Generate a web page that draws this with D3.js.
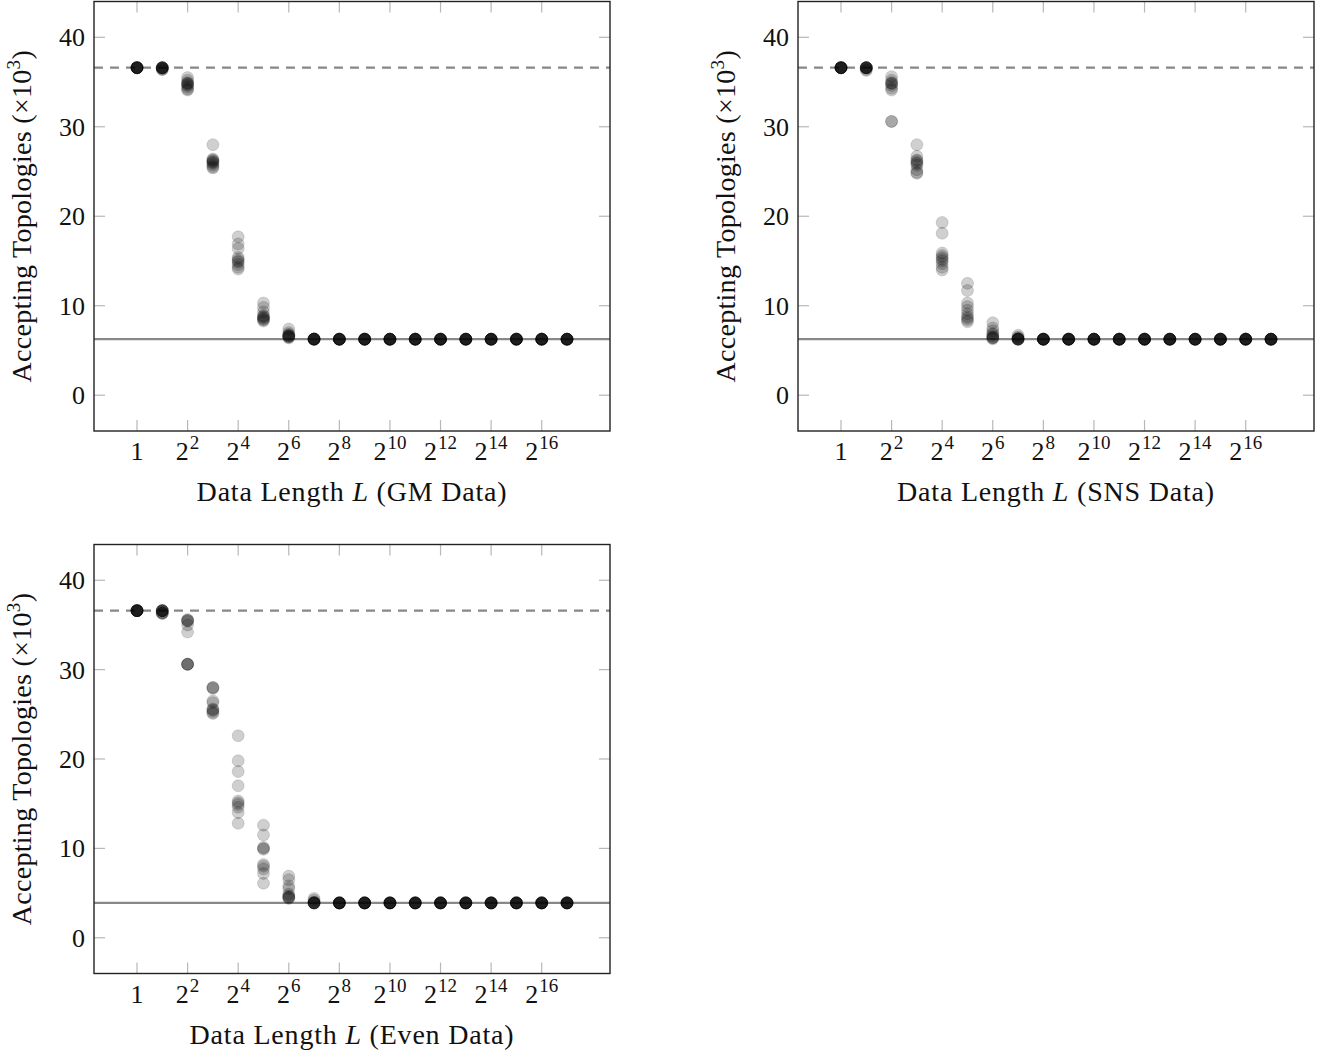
<!DOCTYPE html>
<html>
<head>
<meta charset="utf-8">
<script src="https://cdn.jsdelivr.net/npm/d3@7"></script>
<style>
  html, body { margin: 0; padding: 0; background: #fff; }
  svg { display: block; }
  text { font-family: "Liberation Serif", "Times New Roman", serif; fill: #111; }
</style>
</head>
<body>
<svg id="chart" width="1328" height="1055"></svg>
<script>
// ---- data ----
const lengths = [1, 2, 4, 8, 16, 32, 64, 128, 256, 512, 1024, 2048, 4096, 8192, 16384, 32768, 65536, 131072];
const xTickExponents = [0, 2, 4, 6, 8, 10, 12, 14, 16];
const yTicks = [0, 10, 20, 30, 40];

const gmValues = [
  [36.6, 36.6, 36.6, 36.6, 36.6, 36.6, 36.6, 36.6, 36.6, 36.6],
  [36.6, 36.6, 36.6, 36.6, 36.6, 36.6, 36.6, 36.5, 36.4, 36.4],
  [35.5, 35.2, 34.9, 34.9, 34.8, 34.7, 34.6, 34.4, 34.2, 34.1],
  [28.0, 26.4, 26.3, 26.2, 26.1, 26.0, 25.9, 25.7, 25.5, 25.4],
  [17.7, 16.9, 16.4, 15.4, 15.2, 15.0, 14.9, 14.6, 14.3, 14.1],
  [10.3, 9.8, 9.3, 8.9, 8.8, 8.7, 8.6, 8.5, 8.4, 8.3],
  [7.4, 7.0, 6.8, 6.7, 6.7, 6.6, 6.6, 6.5, 6.5, 6.4],
  [6.3, 6.3, 6.26, 6.26, 6.26, 6.26, 6.26, 6.26, 6.26, 6.26],
  [6.26, 6.26, 6.26, 6.26, 6.26, 6.26, 6.26, 6.26, 6.26, 6.26],
  [6.26, 6.26, 6.26, 6.26, 6.26, 6.26, 6.26, 6.26, 6.26, 6.26],
  [6.26, 6.26, 6.26, 6.26, 6.26, 6.26, 6.26, 6.26, 6.26, 6.26],
  [6.26, 6.26, 6.26, 6.26, 6.26, 6.26, 6.26, 6.26, 6.26, 6.26],
  [6.26, 6.26, 6.26, 6.26, 6.26, 6.26, 6.26, 6.26, 6.26, 6.26],
  [6.26, 6.26, 6.26, 6.26, 6.26, 6.26, 6.26, 6.26, 6.26, 6.26],
  [6.26, 6.26, 6.26, 6.26, 6.26, 6.26, 6.26, 6.26, 6.26, 6.26],
  [6.26, 6.26, 6.26, 6.26, 6.26, 6.26, 6.26, 6.26, 6.26, 6.26],
  [6.26, 6.26, 6.26, 6.26, 6.26, 6.26, 6.26, 6.26, 6.26, 6.26],
  [6.26, 6.26, 6.26, 6.26, 6.26, 6.26, 6.26, 6.26, 6.26, 6.26]
];
const snsValues = [
  [36.6, 36.6, 36.6, 36.6, 36.6, 36.6, 36.6, 36.6, 36.6, 36.6],
  [36.6, 36.6, 36.6, 36.6, 36.6, 36.6, 36.6, 36.6, 36.4, 36.3],
  [35.6, 35.2, 34.9, 34.9, 34.8, 34.6, 34.3, 34.1, 30.6, 30.6],
  [28.0, 26.7, 26.3, 26.2, 26.0, 25.9, 25.7, 25.2, 24.9, 24.8],
  [19.3, 18.1, 15.9, 15.6, 15.4, 15.2, 15.0, 14.7, 14.3, 14.0],
  [12.5, 11.7, 10.3, 9.9, 9.5, 9.1, 8.8, 8.6, 8.4, 8.2],
  [8.1, 7.5, 7.2, 6.9, 6.8, 6.6, 6.5, 6.4, 6.4, 6.3],
  [6.7, 6.5, 6.4, 6.3, 6.3, 6.26, 6.26, 6.26, 6.26, 6.26],
  [6.26, 6.26, 6.26, 6.26, 6.26, 6.26, 6.26, 6.26, 6.26, 6.26],
  [6.26, 6.26, 6.26, 6.26, 6.26, 6.26, 6.26, 6.26, 6.26, 6.26],
  [6.26, 6.26, 6.26, 6.26, 6.26, 6.26, 6.26, 6.26, 6.26, 6.26],
  [6.26, 6.26, 6.26, 6.26, 6.26, 6.26, 6.26, 6.26, 6.26, 6.26],
  [6.26, 6.26, 6.26, 6.26, 6.26, 6.26, 6.26, 6.26, 6.26, 6.26],
  [6.26, 6.26, 6.26, 6.26, 6.26, 6.26, 6.26, 6.26, 6.26, 6.26],
  [6.26, 6.26, 6.26, 6.26, 6.26, 6.26, 6.26, 6.26, 6.26, 6.26],
  [6.26, 6.26, 6.26, 6.26, 6.26, 6.26, 6.26, 6.26, 6.26, 6.26],
  [6.26, 6.26, 6.26, 6.26, 6.26, 6.26, 6.26, 6.26, 6.26, 6.26],
  [6.26, 6.26, 6.26, 6.26, 6.26, 6.26, 6.26, 6.26, 6.26, 6.26]
];
const evenValues = [
  [36.6, 36.6, 36.6, 36.6, 36.6, 36.6, 36.6, 36.6, 36.6, 36.6],
  [36.6, 36.6, 36.6, 36.6, 36.6, 36.6, 36.4, 36.3, 36.3, 36.3],
  [35.6, 35.5, 35.5, 35.4, 35.0, 34.2, 30.6, 30.6, 30.6, 30.6],
  [28.0, 28.0, 27.9, 26.5, 26.3, 25.6, 25.5, 25.4, 25.2, 25.1],
  [22.6, 19.8, 18.6, 17.0, 15.3, 15.1, 14.9, 14.6, 14.0, 12.8],
  [12.6, 11.5, 10.1, 10.0, 9.9, 8.2, 8.0, 7.7, 7.2, 6.1],
  [6.9, 6.5, 5.8, 5.5, 4.9, 4.7, 4.6, 4.5, 4.5, 4.4],
  [4.4, 4.2, 4.0, 3.9, 3.9, 3.9, 3.9, 3.9, 3.9, 3.9],
  [3.9, 3.9, 3.9, 3.9, 3.9, 3.9, 3.9, 3.9, 3.9, 3.9],
  [3.9, 3.9, 3.9, 3.9, 3.9, 3.9, 3.9, 3.9, 3.9, 3.9],
  [3.9, 3.9, 3.9, 3.9, 3.9, 3.9, 3.9, 3.9, 3.9, 3.9],
  [3.9, 3.9, 3.9, 3.9, 3.9, 3.9, 3.9, 3.9, 3.9, 3.9],
  [3.9, 3.9, 3.9, 3.9, 3.9, 3.9, 3.9, 3.9, 3.9, 3.9],
  [3.9, 3.9, 3.9, 3.9, 3.9, 3.9, 3.9, 3.9, 3.9, 3.9],
  [3.9, 3.9, 3.9, 3.9, 3.9, 3.9, 3.9, 3.9, 3.9, 3.9],
  [3.9, 3.9, 3.9, 3.9, 3.9, 3.9, 3.9, 3.9, 3.9, 3.9],
  [3.9, 3.9, 3.9, 3.9, 3.9, 3.9, 3.9, 3.9, 3.9, 3.9],
  [3.9, 3.9, 3.9, 3.9, 3.9, 3.9, 3.9, 3.9, 3.9, 3.9]
];
const upperBounds = [36.6, 36.6, 36.6];
const lowerBounds = [6.26, 6.26, 3.9];
const panelNames = ["GM Data", "SNS Data", "Even Data"];
const panelValues = [gmValues, snsValues, evenValues];

// ---- layout ----
const panelBoxes = [
  { x: 94, y: 1.5, w: 516, h: 429.5 },
  { x: 798, y: 1.5, w: 516, h: 429.5 },
  { x: 94, y: 544.5, w: 516, h: 429 }
];
const FS = 26;
const LFS = 28;
const svg = d3.select("#chart");

panelBoxes.forEach((box, pi) => {
  const g = svg.append("g").attr("transform", `translate(${box.x},${box.y})`);
  const x = d3.scaleLog().base(2).domain([Math.pow(2, -1.7), Math.pow(2, 18.7)]).range([0, box.w]);
  const y = d3.scaleLinear().domain([-4, 44]).range([box.h, 0]);
  const tickLen = 11;

  // inward ticks on all four sides
  const tickColor = "#b8b8b8";
  const xt = xTickExponents.map(e => Math.pow(2, e));
  g.selectAll(".xtb").data(xt).join("line")
    .attr("x1", d => x(d)).attr("x2", d => x(d))
    .attr("y1", box.h).attr("y2", box.h - tickLen)
    .attr("stroke", tickColor).attr("stroke-width", 1.2);
  g.selectAll(".xtt").data(xt).join("line")
    .attr("x1", d => x(d)).attr("x2", d => x(d))
    .attr("y1", 0).attr("y2", tickLen)
    .attr("stroke", tickColor).attr("stroke-width", 1.2);
  g.selectAll(".ytl").data(yTicks).join("line")
    .attr("x1", 0).attr("x2", tickLen)
    .attr("y1", d => y(d)).attr("y2", d => y(d))
    .attr("stroke", tickColor).attr("stroke-width", 1.2);
  g.selectAll(".ytr").data(yTicks).join("line")
    .attr("x1", box.w).attr("x2", box.w - tickLen)
    .attr("y1", d => y(d)).attr("y2", d => y(d))
    .attr("stroke", tickColor).attr("stroke-width", 1.2);

  // reference lines
  g.append("line")
    .attr("x1", 0).attr("x2", box.w)
    .attr("y1", y(upperBounds[pi])).attr("y2", y(upperBounds[pi]))
    .attr("stroke", "#888").attr("stroke-width", 2.2)
    .attr("stroke-dasharray", "9,7");
  g.append("line")
    .attr("x1", 0).attr("x2", box.w)
    .attr("y1", y(lowerBounds[pi])).attr("y2", y(lowerBounds[pi]))
    .attr("stroke", "#888").attr("stroke-width", 2.2);

  // points
  const pts = [];
  panelValues[pi].forEach((vals, i) => vals.forEach(v => pts.push({ L: lengths[i], v })));
  g.selectAll(".pt").data(pts).join("circle")
    .attr("cx", d => x(d.L)).attr("cy", d => y(d.v)).attr("r", 6)
    .attr("fill", "#000").attr("fill-opacity", 0.19)
    .attr("stroke", "#000").attr("stroke-opacity", 0.12).attr("stroke-width", 1);

  // frame
  g.append("rect").attr("x", 0).attr("y", 0).attr("width", box.w).attr("height", box.h)
    .attr("fill", "none").attr("stroke", "#222").attr("stroke-width", 1.4);

  // x tick labels
  xTickExponents.forEach(e => {
    const t = g.append("text")
      .attr("x", x(Math.pow(2, e)))
      .attr("y", box.h + 29)
      .attr("text-anchor", "middle")
      .attr("font-size", FS);
    if (e === 0) {
      t.text("1");
    } else {
      t.append("tspan").text("2");
      t.append("tspan").attr("font-size", 19).attr("dy", -11).attr("dx", 1).text(String(e));
    }
  });

  // y tick labels
  g.selectAll(".ylab").data(yTicks).join("text")
    .attr("x", -9).attr("y", d => y(d) + 9)
    .attr("text-anchor", "end").attr("font-size", FS)
    .text(d => d);

  // x axis label
  const xl = g.append("text")
    .attr("x", box.w / 2).attr("y", box.h + 70)
    .attr("text-anchor", "middle").attr("font-size", LFS)
    .attr("letter-spacing", 0.8);
  xl.append("tspan").text("Data Length ");
  xl.append("tspan").attr("font-style", "italic").text("L");
  xl.append("tspan").text(" (" + panelNames[pi] + ")");

  // y axis label
  const yl = g.append("text")
    .attr("transform", `translate(${-63},${box.h / 2}) rotate(-90)`)
    .attr("text-anchor", "middle").attr("font-size", LFS)
    .attr("letter-spacing", 0.3);
  yl.append("tspan").text("Accepting Topologies (×10");
  yl.append("tspan").attr("font-size", 19).attr("dy", -11).text("3");
  yl.append("tspan").attr("dy", 11).text(")");
});
</script>
</body>
</html>
